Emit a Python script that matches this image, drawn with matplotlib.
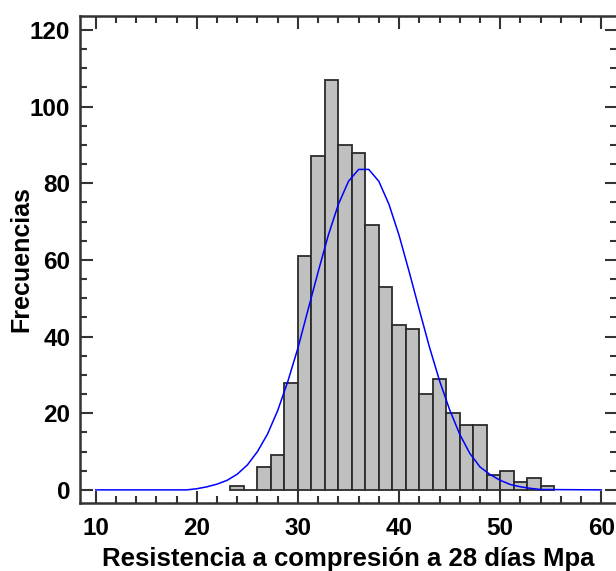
import matplotlib.pyplot as plt
import numpy as np
from matplotlib.ticker import MultipleLocator

# histogram counts
bin_start = 23.33
bin_width = 1.334
counts = [1, 0, 6, 9, 28, 61, 87, 107, 90, 88, 69, 53,
          43, 42, 25, 29, 20, 17, 17, 4, 5, 2, 3, 1]

# fitted curve, points
curve_x = [10, 19, 20, 21, 22, 23, 24, 25, 26, 27, 28, 29, 30, 31, 32, 33, 34,
           35, 36, 37, 38, 39, 40, 41, 42, 43, 44, 45, 46, 47, 48, 49, 50,
           51, 52, 53, 54, 60]
curve_y = [0, 0, 0.3, 0.8, 1.5, 2.5, 4.1, 6.5, 10.0, 14.6, 20.7, 28.3, 37.0,
           47.0, 56.9, 66.4, 74.5, 80.5, 83.6, 83.6, 80.5, 74.5, 66.4, 56.9,
           47.0, 37.3, 28.5, 20.9, 14.5, 9.5, 6.0, 4.0, 2.5, 1.4, 0.8, 0.4,
           0.1, 0]

xlabel = 'Resistencia a compresión a 28 días Mpa'
ylabel = 'Frecuencias'

plt.rcParams['font.family'] = ['Liberation Sans', 'DejaVu Sans']
plt.rcParams['font.weight'] = 'bold'

fig = plt.figure(figsize=(6.16, 5.71), dpi=100)
ax = fig.add_axes([80 / 616, 1 - 503.3 / 571, 537 / 616, (503.3 - 15.7) / 571])

lefts = bin_start + bin_width * np.arange(len(counts))
ax.bar(lefts, counts, width=bin_width, align='edge', color='#c0c0c0',
       edgecolor='#2b2b2b', linewidth=1.3, zorder=2)
ax.plot(curve_x, curve_y, color='#0000ff', linewidth=1.1, zorder=3)

ax.set_xlim(8.45, 61.55)
ax.set_ylim(-3.5, 123.7)
ax.xaxis.set_major_locator(MultipleLocator(10))
ax.xaxis.set_minor_locator(MultipleLocator(2))
ax.yaxis.set_major_locator(MultipleLocator(20))
ax.yaxis.set_minor_locator(MultipleLocator(5))

ax.tick_params(which='both', direction='in', top=True, right=True,
               color='#333333', width=1.5)
ax.tick_params(which='major', length=9, labelsize=17.5)
ax.tick_params(axis='x', which='major', pad=10)
ax.tick_params(axis='y', which='major', pad=7)
ax.tick_params(which='minor', length=5)
for lab in ax.get_xticklabels() + ax.get_yticklabels():
    lab.set_fontweight('bold')

for s in ax.spines.values():
    s.set_color('#333333')
    s.set_linewidth(1.8)

ax.set_xlabel(xlabel, fontsize=18.5, fontweight='bold', labelpad=5)
ax.set_ylabel(ylabel, fontsize=18, fontweight='bold')
ax.yaxis.set_label_coords(-0.087, 0.5)

fig.savefig('out.png', dpi=100)
